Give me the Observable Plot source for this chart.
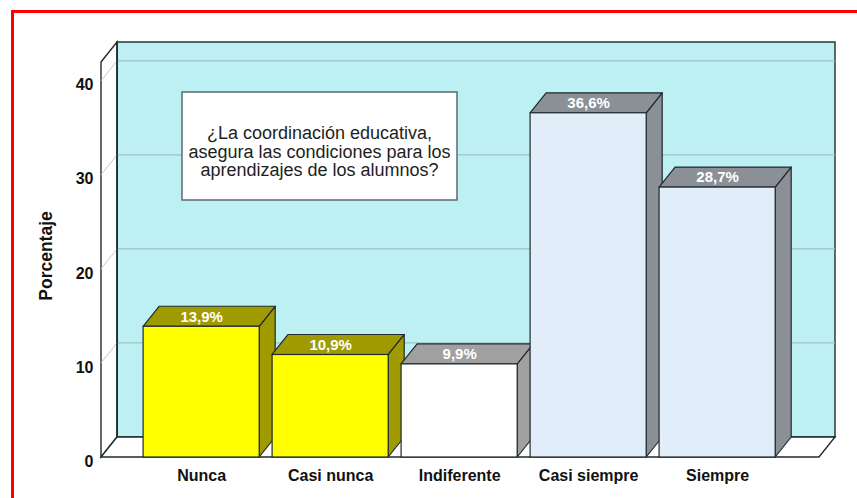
<!DOCTYPE html>
<html><head><meta charset="utf-8">
<script src="https://cdn.jsdelivr.net/npm/d3@7"></script>
<script src="https://cdn.jsdelivr.net/npm/@observablehq/plot@0.6"></script>
<style>
html,body{margin:0;padding:0;background:#fff;overflow:hidden;}
#frame{position:absolute;left:11px;top:10px;width:900px;height:600px;border-left:3px solid #ff0000;border-top:3px solid #ff0000;}
#chart{position:absolute;left:0;top:0;}
</style></head><body>
<div id="frame"></div>
<div id="chart"></div>
<script>
const categories = ["Nunca", "Casi nunca", "Indiferente", "Casi siempre", "Siempre"];
const values = [13.9, 10.9, 9.9, 36.6, 28.7];
const valueLabels = ["13,9%", "10,9%", "9,9%", "36,6%", "28,7%"];
const yTicks = [0, 10, 20, 30, 40];
const yTitle = "Porcentaje";
const question = ["¿La coordinación educativa,", "asegura las condiciones para los", "aprendizajes de los alumnos?"];

const frontColors = ["#ffff00", "#ffff00", "#ffffff", "#e1eefa", "#e1eefa"];
const sideColors = ["#9e9a00", "#9e9a00", "#a0a0a0", "#8b9096", "#8b9096"];

const FONT = "Liberation Sans, Arial, Helvetica, sans-serif";
const DX = 16, DY = -20;
const EDGE = "#1f2a2e";
const WALL = "#bcf0f2";

const data = categories.map((c, i) => ({category: c, value: values[i], label: valueLabels[i]}));

function walls(index, {x, y}, values_, dim) {
  const g = d3.create("svg:g");
  const x0 = dim.marginLeft, x1 = dim.width - dim.marginRight;
  const yb = y(0), yt = dim.marginTop;
  g.append("rect").attr("x", x0 + DX).attr("y", yt + DY).attr("width", x1 - x0).attr("height", yb - yt)
    .attr("fill", WALL).attr("stroke", EDGE).attr("stroke-width", 1.4);
  for (const t of yTicks) if (t > 0) {
    g.append("line").attr("x1", x0 + DX).attr("x2", x1 + DX).attr("y1", y(t) + DY).attr("y2", y(t) + DY)
      .attr("stroke", "#9fc3c6").attr("stroke-width", 1.2);
  }
  g.append("path").attr("d", `M${x0},${yt}L${x0 + DX},${yt + DY}L${x0 + DX},${yb + DY}L${x0},${yb}Z`)
    .attr("fill", "#fff").attr("stroke", EDGE).attr("stroke-width", 1.4);
  for (const t of yTicks) if (t > 0) {
    g.append("line").attr("x1", x0).attr("x2", x0 + DX).attr("y1", y(t)).attr("y2", y(t) + DY)
      .attr("stroke", "#c8c8c8").attr("stroke-width", 1);
  }
  g.append("path").attr("d", `M${x0},${yb}L${x1},${yb}L${x1 + DX},${yb + DY}L${x0 + DX},${yb + DY}Z`)
    .attr("fill", "#fff").attr("stroke", EDGE).attr("stroke-width", 1.4);
  g.append("line").attr("x1", x0 + DX).attr("x2", x0 + DX).attr("y1", yt + DY).attr("y2", yb + DY)
    .attr("stroke", EDGE).attr("stroke-width", 1.4);
  return g.node();
}

function barFaces(index, {x, y}) {
  const g = d3.create("svg:g");
  const bw = x.bandwidth();
  categories.forEach((c, i) => {
    const xl = x(c), xr = xl + bw, yv = y(values[i]), y0 = y(0);
    g.append("path").attr("d", `M${xr},${yv}L${xr + DX},${yv + DY}L${xr + DX},${y0 + DY}L${xr},${y0}Z`)
      .attr("fill", sideColors[i]).attr("stroke", EDGE).attr("stroke-width", 1.2).attr("stroke-linejoin", "round");
    g.append("path").attr("d", `M${xl},${yv}L${xr},${yv}L${xr + DX},${yv + DY}L${xl + DX},${yv + DY}Z`)
      .attr("fill", sideColors[i]).attr("stroke", EDGE).attr("stroke-width", 1.2).attr("stroke-linejoin", "round");
  });
  return g.node();
}

function questionBox(index, scales, values_, dim) {
  const g = d3.create("svg:g");
  const bx = dim.marginLeft + 81, by = dim.marginTop + 30, bwid = 275, bh = 108;
  g.append("rect").attr("x", bx).attr("y", by).attr("width", bwid).attr("height", bh)
    .attr("fill", "#fff").attr("stroke", "#5d6a70").attr("stroke-width", 1.5);
  const t = g.append("text").attr("text-anchor", "middle").attr("font-family", FONT)
    .attr("font-size", 18).attr("fill", "#1e1e1e");
  question.forEach((line, i) => {
    t.append("tspan").attr("x", bx + bwid / 2).attr("y", by + 47 + i * 18.5).text(line);
  });
  return g.node();
}

const plot = Plot.plot({
  width: 857,
  height: 498,
  marginLeft: 101,
  marginRight: 38,
  marginTop: 62,
  marginBottom: 41,
  style: {fontFamily: FONT, background: "transparent"},
  x: {domain: categories, paddingInner: 0.1, paddingOuter: 0.333, align: 0.49, round: false, label: null},
  y: {domain: [0, 42], label: null},
  color: {domain: categories, range: frontColors},
  marks: [
    walls,
    barFaces,
    Plot.barY(data, {x: "category", y: "value", fill: "category", stroke: EDGE, strokeWidth: 1.2}),
    Plot.text(data, {x: "category", y: "value", text: "label", dy: -10, fill: "#fff", fontWeight: "bold", fontSize: 15, fontFamily: FONT}),
    Plot.axisY({ticks: yTicks, tickSize: 0, tickPadding: 8, dy: 4, fontSize: 16, fontWeight: "bold", fill: "#111", label: null}),
    Plot.axisX({tickSize: 0, tickPadding: 12, fontSize: 16, fontWeight: "bold", fill: "#111", label: null}),
    Plot.text([yTitle], {frameAnchor: "left", rotate: -90, dx: -55, dy: -4, textAnchor: "middle", fontSize: 17.5, fontWeight: "bold", fill: "#111", fontFamily: FONT}),
    questionBox
  ]
});
document.getElementById("chart").appendChild(plot);
</script>
</body></html>
